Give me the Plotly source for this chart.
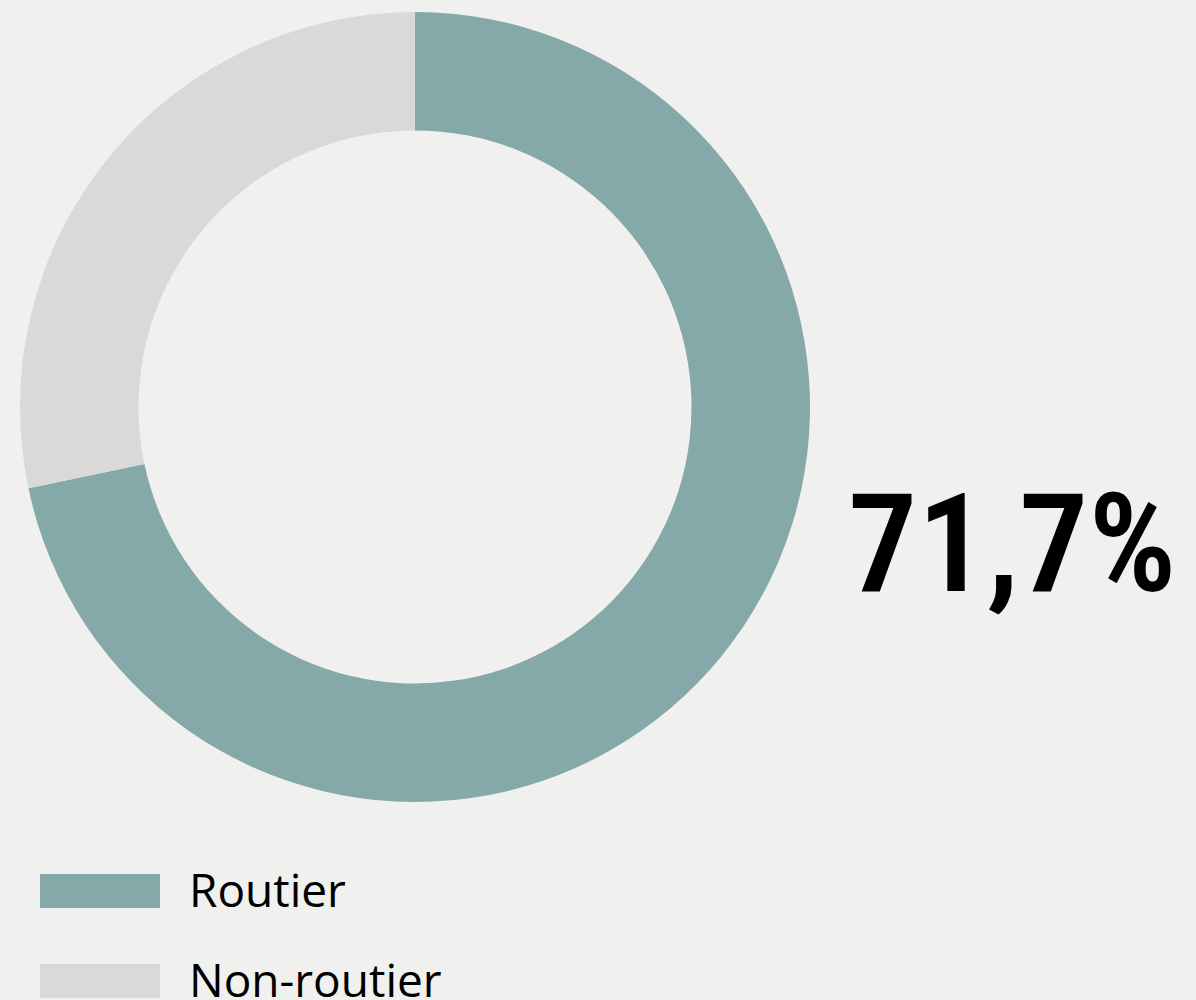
import plotly.graph_objects as go

labels = ["Routier", "Non-routier"]
values = [71.7, 28.3]
colors = ["#85a8a9", "#d9d9d9"]
headline = "71,7%"

W, H = 1196, 1000
bg = "#f0f0ee"

fig = go.Figure()
fig.add_trace(go.Pie(
    labels=labels, values=values, sort=False, direction="clockwise", rotation=0,
    hole=0.70, marker=dict(colors=colors, line=dict(width=0)),
    textinfo="none", hoverinfo="label+percent", showlegend=False,
    domain=dict(x=[20 / W, 810 / W], y=[(H - 407 - 395) / H, (H - 407 + 395) / H]),
))

fig.add_annotation(
    text=headline, xref="paper", yref="paper", x=846 / W, y=1 - 544 / H,
    xanchor="left", yanchor="middle", showarrow=False,
    font=dict(family="Liberation Sans Narrow, Roboto Condensed, Open Sans", size=138,
              color="#000000", weight=600),
)

legend_y = [891, 981]
for lab, col, yc in zip(labels, colors, legend_y):
    fig.add_shape(type="rect", xref="paper", yref="paper",
                  x0=40 / W, x1=160 / W, y0=1 - (yc + 17) / H, y1=1 - (yc - 17) / H,
                  fillcolor=col, line=dict(width=0), layer="above")
    fig.add_annotation(text=lab, xref="paper", yref="paper", x=187 / W, y=1 - (yc - 2) / H,
                       xanchor="left", yanchor="middle", showarrow=False,
                       font=dict(family="Open Sans", size=46, color="#000000"))

fig.update_layout(
    width=W, height=H, margin=dict(l=0, r=0, t=0, b=0),
    paper_bgcolor=bg, plot_bgcolor=bg,
)
fig.write_html(
    "out.html",
    config={"displayModeBar": False},
    post_script="document.body.style.margin='0';document.body.style.background='%s';" % bg,
)
